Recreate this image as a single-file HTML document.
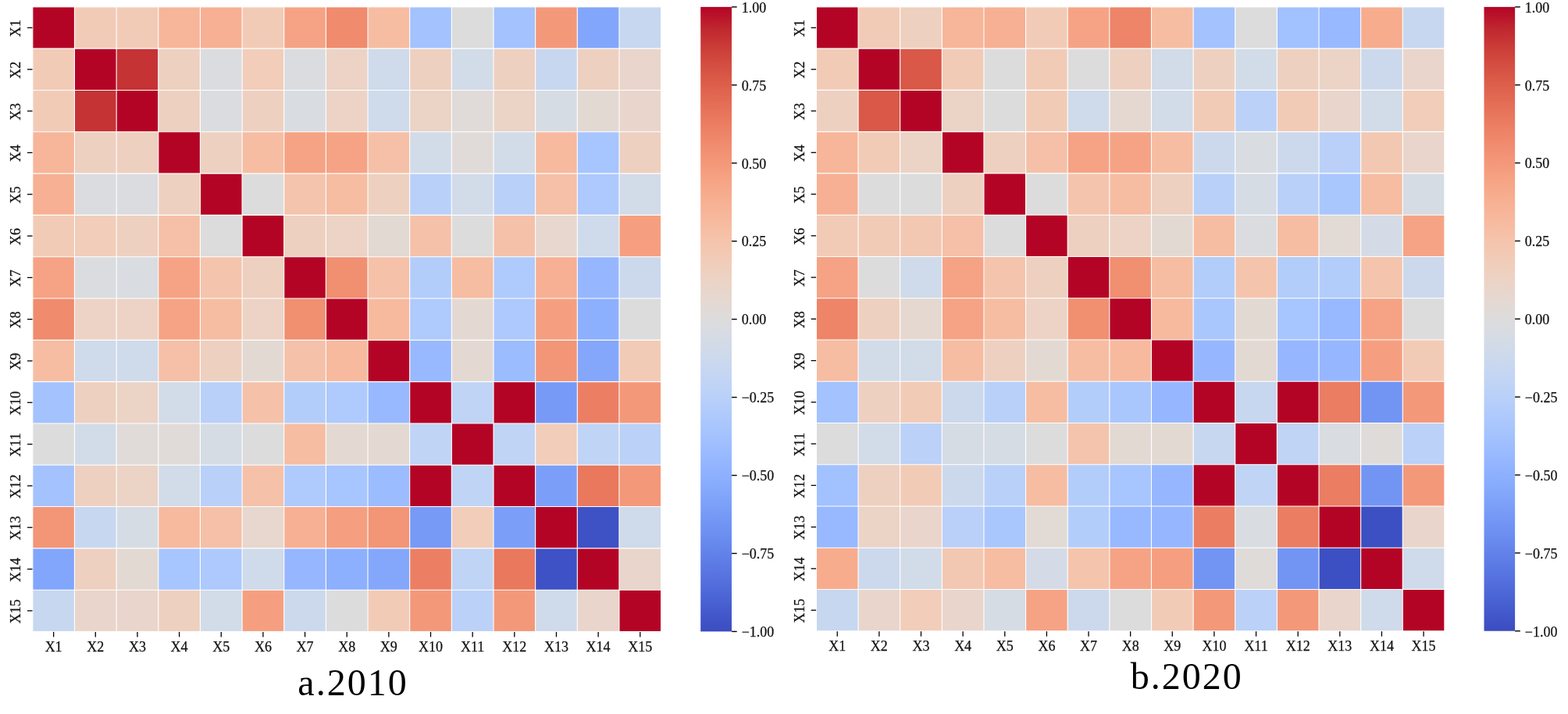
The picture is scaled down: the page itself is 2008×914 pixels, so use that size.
<!DOCTYPE html>
<html><head><meta charset="utf-8"><style>
html,body{margin:0;padding:0;background:#fff;width:2008px;height:914px;overflow:hidden}
svg{position:absolute;left:0;top:0}
.t{font-family:"Liberation Serif","Times New Roman",serif;font-size:18.00px;fill:#111;stroke:#111;stroke-width:0.25px}
.title{font-family:"Liberation Serif","Times New Roman",serif;font-size:48.00px;letter-spacing:2.00px;fill:#000}
</style></head><body>
<svg width="2008" height="914" viewBox="0 0 2008 914">
<rect x="41.81" y="8.85" width="53.70" height="53.36" fill="#b40426"/>
<rect x="95.46" y="8.85" width="53.70" height="53.36" fill="#f2cbb7"/>
<rect x="149.12" y="8.85" width="53.70" height="53.36" fill="#f2cbb7"/>
<rect x="202.77" y="8.85" width="53.70" height="53.36" fill="#f7b599"/>
<rect x="256.42" y="8.85" width="53.70" height="53.36" fill="#f7b093"/>
<rect x="310.07" y="8.85" width="53.70" height="53.36" fill="#f2cbb7"/>
<rect x="363.73" y="8.85" width="53.70" height="53.36" fill="#f6a385"/>
<rect x="417.38" y="8.85" width="53.70" height="53.36" fill="#f08b6e"/>
<rect x="471.03" y="8.85" width="53.70" height="53.36" fill="#f6bda2"/>
<rect x="524.68" y="8.85" width="53.70" height="53.36" fill="#a3c2fe"/>
<rect x="578.34" y="8.85" width="53.70" height="53.36" fill="#dddcdc"/>
<rect x="631.99" y="8.85" width="53.70" height="53.36" fill="#a3c2fe"/>
<rect x="685.64" y="8.85" width="53.70" height="53.36" fill="#f4987a"/>
<rect x="739.29" y="8.85" width="53.70" height="53.36" fill="#82a6fb"/>
<rect x="792.95" y="8.85" width="53.70" height="53.36" fill="#c7d7f0"/>
<rect x="41.81" y="62.16" width="53.70" height="53.36" fill="#f2cbb7"/>
<rect x="95.46" y="62.16" width="53.70" height="53.36" fill="#b40426"/>
<rect x="149.12" y="62.16" width="53.70" height="53.36" fill="#c53334"/>
<rect x="202.77" y="62.16" width="53.70" height="53.36" fill="#eed0c0"/>
<rect x="256.42" y="62.16" width="53.70" height="53.36" fill="#dadce0"/>
<rect x="310.07" y="62.16" width="53.70" height="53.36" fill="#f1cdba"/>
<rect x="363.73" y="62.16" width="53.70" height="53.36" fill="#dadce0"/>
<rect x="417.38" y="62.16" width="53.70" height="53.36" fill="#ecd3c5"/>
<rect x="471.03" y="62.16" width="53.70" height="53.36" fill="#cfdaea"/>
<rect x="524.68" y="62.16" width="53.70" height="53.36" fill="#eed0c0"/>
<rect x="578.34" y="62.16" width="53.70" height="53.36" fill="#d2dbe8"/>
<rect x="631.99" y="62.16" width="53.70" height="53.36" fill="#eed0c0"/>
<rect x="685.64" y="62.16" width="53.70" height="53.36" fill="#c7d7f0"/>
<rect x="739.29" y="62.16" width="53.70" height="53.36" fill="#eed0c0"/>
<rect x="792.95" y="62.16" width="53.70" height="53.36" fill="#e9d5cb"/>
<rect x="41.81" y="115.47" width="53.70" height="53.36" fill="#f2cbb7"/>
<rect x="95.46" y="115.47" width="53.70" height="53.36" fill="#c53334"/>
<rect x="149.12" y="115.47" width="53.70" height="53.36" fill="#b40426"/>
<rect x="202.77" y="115.47" width="53.70" height="53.36" fill="#eed0c0"/>
<rect x="256.42" y="115.47" width="53.70" height="53.36" fill="#dadce0"/>
<rect x="310.07" y="115.47" width="53.70" height="53.36" fill="#eed0c0"/>
<rect x="363.73" y="115.47" width="53.70" height="53.36" fill="#d9dce1"/>
<rect x="417.38" y="115.47" width="53.70" height="53.36" fill="#ecd3c5"/>
<rect x="471.03" y="115.47" width="53.70" height="53.36" fill="#cfdaea"/>
<rect x="524.68" y="115.47" width="53.70" height="53.36" fill="#ebd3c6"/>
<rect x="578.34" y="115.47" width="53.70" height="53.36" fill="#e0dbd8"/>
<rect x="631.99" y="115.47" width="53.70" height="53.36" fill="#ebd3c6"/>
<rect x="685.64" y="115.47" width="53.70" height="53.36" fill="#d6dce4"/>
<rect x="739.29" y="115.47" width="53.70" height="53.36" fill="#e3d9d3"/>
<rect x="792.95" y="115.47" width="53.70" height="53.36" fill="#e9d5cb"/>
<rect x="41.81" y="168.78" width="53.70" height="53.36" fill="#f7b599"/>
<rect x="95.46" y="168.78" width="53.70" height="53.36" fill="#eed0c0"/>
<rect x="149.12" y="168.78" width="53.70" height="53.36" fill="#eed0c0"/>
<rect x="202.77" y="168.78" width="53.70" height="53.36" fill="#b40426"/>
<rect x="256.42" y="168.78" width="53.70" height="53.36" fill="#eed0c0"/>
<rect x="310.07" y="168.78" width="53.70" height="53.36" fill="#f6bda2"/>
<rect x="363.73" y="168.78" width="53.70" height="53.36" fill="#f6a385"/>
<rect x="417.38" y="168.78" width="53.70" height="53.36" fill="#f6a385"/>
<rect x="471.03" y="168.78" width="53.70" height="53.36" fill="#f5c0a7"/>
<rect x="524.68" y="168.78" width="53.70" height="53.36" fill="#d2dbe8"/>
<rect x="578.34" y="168.78" width="53.70" height="53.36" fill="#e0dbd8"/>
<rect x="631.99" y="168.78" width="53.70" height="53.36" fill="#d2dbe8"/>
<rect x="685.64" y="168.78" width="53.70" height="53.36" fill="#f7ba9f"/>
<rect x="739.29" y="168.78" width="53.70" height="53.36" fill="#a7c5fe"/>
<rect x="792.95" y="168.78" width="53.70" height="53.36" fill="#eed0c0"/>
<rect x="41.81" y="222.09" width="53.70" height="53.36" fill="#f7b093"/>
<rect x="95.46" y="222.09" width="53.70" height="53.36" fill="#dadce0"/>
<rect x="149.12" y="222.09" width="53.70" height="53.36" fill="#dadce0"/>
<rect x="202.77" y="222.09" width="53.70" height="53.36" fill="#eed0c0"/>
<rect x="256.42" y="222.09" width="53.70" height="53.36" fill="#b40426"/>
<rect x="310.07" y="222.09" width="53.70" height="53.36" fill="#dddcdc"/>
<rect x="363.73" y="222.09" width="53.70" height="53.36" fill="#f5c4ac"/>
<rect x="417.38" y="222.09" width="53.70" height="53.36" fill="#f6bda2"/>
<rect x="471.03" y="222.09" width="53.70" height="53.36" fill="#eed0c0"/>
<rect x="524.68" y="222.09" width="53.70" height="53.36" fill="#b9d0f9"/>
<rect x="578.34" y="222.09" width="53.70" height="53.36" fill="#d2dbe8"/>
<rect x="631.99" y="222.09" width="53.70" height="53.36" fill="#b9d0f9"/>
<rect x="685.64" y="222.09" width="53.70" height="53.36" fill="#f5c0a7"/>
<rect x="739.29" y="222.09" width="53.70" height="53.36" fill="#adc9fd"/>
<rect x="792.95" y="222.09" width="53.70" height="53.36" fill="#d2dbe8"/>
<rect x="41.81" y="275.40" width="53.70" height="53.36" fill="#f2cbb7"/>
<rect x="95.46" y="275.40" width="53.70" height="53.36" fill="#f1cdba"/>
<rect x="149.12" y="275.40" width="53.70" height="53.36" fill="#eed0c0"/>
<rect x="202.77" y="275.40" width="53.70" height="53.36" fill="#f5c0a7"/>
<rect x="256.42" y="275.40" width="53.70" height="53.36" fill="#dddcdc"/>
<rect x="310.07" y="275.40" width="53.70" height="53.36" fill="#b40426"/>
<rect x="363.73" y="275.40" width="53.70" height="53.36" fill="#eed0c0"/>
<rect x="417.38" y="275.40" width="53.70" height="53.36" fill="#ecd3c5"/>
<rect x="471.03" y="275.40" width="53.70" height="53.36" fill="#e3d9d3"/>
<rect x="524.68" y="275.40" width="53.70" height="53.36" fill="#f5c1a9"/>
<rect x="578.34" y="275.40" width="53.70" height="53.36" fill="#dddcdc"/>
<rect x="631.99" y="275.40" width="53.70" height="53.36" fill="#f5c1a9"/>
<rect x="685.64" y="275.40" width="53.70" height="53.36" fill="#e7d7ce"/>
<rect x="739.29" y="275.40" width="53.70" height="53.36" fill="#cfdaea"/>
<rect x="792.95" y="275.40" width="53.70" height="53.36" fill="#f59f80"/>
<rect x="41.81" y="328.71" width="53.70" height="53.36" fill="#f6a385"/>
<rect x="95.46" y="328.71" width="53.70" height="53.36" fill="#dadce0"/>
<rect x="149.12" y="328.71" width="53.70" height="53.36" fill="#d9dce1"/>
<rect x="202.77" y="328.71" width="53.70" height="53.36" fill="#f6a385"/>
<rect x="256.42" y="328.71" width="53.70" height="53.36" fill="#f5c4ac"/>
<rect x="310.07" y="328.71" width="53.70" height="53.36" fill="#eed0c0"/>
<rect x="363.73" y="328.71" width="53.70" height="53.36" fill="#b40426"/>
<rect x="417.38" y="328.71" width="53.70" height="53.36" fill="#f18f71"/>
<rect x="471.03" y="328.71" width="53.70" height="53.36" fill="#f5c1a9"/>
<rect x="524.68" y="328.71" width="53.70" height="53.36" fill="#b3cdfb"/>
<rect x="578.34" y="328.71" width="53.70" height="53.36" fill="#f6bda2"/>
<rect x="631.99" y="328.71" width="53.70" height="53.36" fill="#afcafc"/>
<rect x="685.64" y="328.71" width="53.70" height="53.36" fill="#f7b093"/>
<rect x="739.29" y="328.71" width="53.70" height="53.36" fill="#96b7ff"/>
<rect x="792.95" y="328.71" width="53.70" height="53.36" fill="#ccd9ed"/>
<rect x="41.81" y="382.02" width="53.70" height="53.36" fill="#f08b6e"/>
<rect x="95.46" y="382.02" width="53.70" height="53.36" fill="#ecd3c5"/>
<rect x="149.12" y="382.02" width="53.70" height="53.36" fill="#ecd3c5"/>
<rect x="202.77" y="382.02" width="53.70" height="53.36" fill="#f6a385"/>
<rect x="256.42" y="382.02" width="53.70" height="53.36" fill="#f6bda2"/>
<rect x="310.07" y="382.02" width="53.70" height="53.36" fill="#ecd3c5"/>
<rect x="363.73" y="382.02" width="53.70" height="53.36" fill="#f18f71"/>
<rect x="417.38" y="382.02" width="53.70" height="53.36" fill="#b40426"/>
<rect x="471.03" y="382.02" width="53.70" height="53.36" fill="#f7ba9f"/>
<rect x="524.68" y="382.02" width="53.70" height="53.36" fill="#afcafc"/>
<rect x="578.34" y="382.02" width="53.70" height="53.36" fill="#e4d9d2"/>
<rect x="631.99" y="382.02" width="53.70" height="53.36" fill="#adc9fd"/>
<rect x="685.64" y="382.02" width="53.70" height="53.36" fill="#f59f80"/>
<rect x="739.29" y="382.02" width="53.70" height="53.36" fill="#8db0fe"/>
<rect x="792.95" y="382.02" width="53.70" height="53.36" fill="#dddcdc"/>
<rect x="41.81" y="435.33" width="53.70" height="53.36" fill="#f6bda2"/>
<rect x="95.46" y="435.33" width="53.70" height="53.36" fill="#cfdaea"/>
<rect x="149.12" y="435.33" width="53.70" height="53.36" fill="#cfdaea"/>
<rect x="202.77" y="435.33" width="53.70" height="53.36" fill="#f5c0a7"/>
<rect x="256.42" y="435.33" width="53.70" height="53.36" fill="#eed0c0"/>
<rect x="310.07" y="435.33" width="53.70" height="53.36" fill="#e3d9d3"/>
<rect x="363.73" y="435.33" width="53.70" height="53.36" fill="#f5c1a9"/>
<rect x="417.38" y="435.33" width="53.70" height="53.36" fill="#f7ba9f"/>
<rect x="471.03" y="435.33" width="53.70" height="53.36" fill="#b40426"/>
<rect x="524.68" y="435.33" width="53.70" height="53.36" fill="#98b9ff"/>
<rect x="578.34" y="435.33" width="53.70" height="53.36" fill="#e4d9d2"/>
<rect x="631.99" y="435.33" width="53.70" height="53.36" fill="#9bbcff"/>
<rect x="685.64" y="435.33" width="53.70" height="53.36" fill="#f39577"/>
<rect x="739.29" y="435.33" width="53.70" height="53.36" fill="#84a7fc"/>
<rect x="792.95" y="435.33" width="53.70" height="53.36" fill="#f2cbb7"/>
<rect x="41.81" y="488.64" width="53.70" height="53.36" fill="#a3c2fe"/>
<rect x="95.46" y="488.64" width="53.70" height="53.36" fill="#eed0c0"/>
<rect x="149.12" y="488.64" width="53.70" height="53.36" fill="#ebd3c6"/>
<rect x="202.77" y="488.64" width="53.70" height="53.36" fill="#d2dbe8"/>
<rect x="256.42" y="488.64" width="53.70" height="53.36" fill="#b9d0f9"/>
<rect x="310.07" y="488.64" width="53.70" height="53.36" fill="#f5c1a9"/>
<rect x="363.73" y="488.64" width="53.70" height="53.36" fill="#b3cdfb"/>
<rect x="417.38" y="488.64" width="53.70" height="53.36" fill="#afcafc"/>
<rect x="471.03" y="488.64" width="53.70" height="53.36" fill="#98b9ff"/>
<rect x="524.68" y="488.64" width="53.70" height="53.36" fill="#b40426"/>
<rect x="578.34" y="488.64" width="53.70" height="53.36" fill="#c0d4f5"/>
<rect x="631.99" y="488.64" width="53.70" height="53.36" fill="#b40426"/>
<rect x="685.64" y="488.64" width="53.70" height="53.36" fill="#779af7"/>
<rect x="739.29" y="488.64" width="53.70" height="53.36" fill="#ec7f63"/>
<rect x="792.95" y="488.64" width="53.70" height="53.36" fill="#f4987a"/>
<rect x="41.81" y="541.95" width="53.70" height="53.36" fill="#dddcdc"/>
<rect x="95.46" y="541.95" width="53.70" height="53.36" fill="#d2dbe8"/>
<rect x="149.12" y="541.95" width="53.70" height="53.36" fill="#e0dbd8"/>
<rect x="202.77" y="541.95" width="53.70" height="53.36" fill="#e0dbd8"/>
<rect x="256.42" y="541.95" width="53.70" height="53.36" fill="#d6dce4"/>
<rect x="310.07" y="541.95" width="53.70" height="53.36" fill="#dddcdc"/>
<rect x="363.73" y="541.95" width="53.70" height="53.36" fill="#f6bda2"/>
<rect x="417.38" y="541.95" width="53.70" height="53.36" fill="#e4d9d2"/>
<rect x="471.03" y="541.95" width="53.70" height="53.36" fill="#e4d9d2"/>
<rect x="524.68" y="541.95" width="53.70" height="53.36" fill="#c0d4f5"/>
<rect x="578.34" y="541.95" width="53.70" height="53.36" fill="#b40426"/>
<rect x="631.99" y="541.95" width="53.70" height="53.36" fill="#c0d4f5"/>
<rect x="685.64" y="541.95" width="53.70" height="53.36" fill="#f1cdba"/>
<rect x="739.29" y="541.95" width="53.70" height="53.36" fill="#c0d4f5"/>
<rect x="792.95" y="541.95" width="53.70" height="53.36" fill="#bbd1f8"/>
<rect x="41.81" y="595.26" width="53.70" height="53.36" fill="#a3c2fe"/>
<rect x="95.46" y="595.26" width="53.70" height="53.36" fill="#eed0c0"/>
<rect x="149.12" y="595.26" width="53.70" height="53.36" fill="#ebd3c6"/>
<rect x="202.77" y="595.26" width="53.70" height="53.36" fill="#d2dbe8"/>
<rect x="256.42" y="595.26" width="53.70" height="53.36" fill="#b9d0f9"/>
<rect x="310.07" y="595.26" width="53.70" height="53.36" fill="#f5c1a9"/>
<rect x="363.73" y="595.26" width="53.70" height="53.36" fill="#afcafc"/>
<rect x="417.38" y="595.26" width="53.70" height="53.36" fill="#a7c5fe"/>
<rect x="471.03" y="595.26" width="53.70" height="53.36" fill="#9bbcff"/>
<rect x="524.68" y="595.26" width="53.70" height="53.36" fill="#b40426"/>
<rect x="578.34" y="595.26" width="53.70" height="53.36" fill="#c0d4f5"/>
<rect x="631.99" y="595.26" width="53.70" height="53.36" fill="#b40426"/>
<rect x="685.64" y="595.26" width="53.70" height="53.36" fill="#7b9ff9"/>
<rect x="739.29" y="595.26" width="53.70" height="53.36" fill="#e9785d"/>
<rect x="792.95" y="595.26" width="53.70" height="53.36" fill="#f4987a"/>
<rect x="41.81" y="648.57" width="53.70" height="53.36" fill="#f39577"/>
<rect x="95.46" y="648.57" width="53.70" height="53.36" fill="#c7d7f0"/>
<rect x="149.12" y="648.57" width="53.70" height="53.36" fill="#d6dce4"/>
<rect x="202.77" y="648.57" width="53.70" height="53.36" fill="#f7ba9f"/>
<rect x="256.42" y="648.57" width="53.70" height="53.36" fill="#f5c0a7"/>
<rect x="310.07" y="648.57" width="53.70" height="53.36" fill="#e7d7ce"/>
<rect x="363.73" y="648.57" width="53.70" height="53.36" fill="#f7b093"/>
<rect x="417.38" y="648.57" width="53.70" height="53.36" fill="#f59f80"/>
<rect x="471.03" y="648.57" width="53.70" height="53.36" fill="#f39577"/>
<rect x="524.68" y="648.57" width="53.70" height="53.36" fill="#779af7"/>
<rect x="578.34" y="648.57" width="53.70" height="53.36" fill="#f1cdba"/>
<rect x="631.99" y="648.57" width="53.70" height="53.36" fill="#7b9ff9"/>
<rect x="685.64" y="648.57" width="53.70" height="53.36" fill="#b40426"/>
<rect x="739.29" y="648.57" width="53.70" height="53.36" fill="#3e51c5"/>
<rect x="792.95" y="648.57" width="53.70" height="53.36" fill="#cfdaea"/>
<rect x="41.81" y="701.88" width="53.70" height="53.36" fill="#82a6fb"/>
<rect x="95.46" y="701.88" width="53.70" height="53.36" fill="#eed0c0"/>
<rect x="149.12" y="701.88" width="53.70" height="53.36" fill="#e3d9d3"/>
<rect x="202.77" y="701.88" width="53.70" height="53.36" fill="#a7c5fe"/>
<rect x="256.42" y="701.88" width="53.70" height="53.36" fill="#adc9fd"/>
<rect x="310.07" y="701.88" width="53.70" height="53.36" fill="#cfdaea"/>
<rect x="363.73" y="701.88" width="53.70" height="53.36" fill="#96b7ff"/>
<rect x="417.38" y="701.88" width="53.70" height="53.36" fill="#8db0fe"/>
<rect x="471.03" y="701.88" width="53.70" height="53.36" fill="#84a7fc"/>
<rect x="524.68" y="701.88" width="53.70" height="53.36" fill="#ec7f63"/>
<rect x="578.34" y="701.88" width="53.70" height="53.36" fill="#c0d4f5"/>
<rect x="631.99" y="701.88" width="53.70" height="53.36" fill="#e9785d"/>
<rect x="685.64" y="701.88" width="53.70" height="53.36" fill="#3e51c5"/>
<rect x="739.29" y="701.88" width="53.70" height="53.36" fill="#b40426"/>
<rect x="792.95" y="701.88" width="53.70" height="53.36" fill="#e9d5cb"/>
<rect x="41.81" y="755.19" width="53.70" height="53.36" fill="#c7d7f0"/>
<rect x="95.46" y="755.19" width="53.70" height="53.36" fill="#e9d5cb"/>
<rect x="149.12" y="755.19" width="53.70" height="53.36" fill="#e9d5cb"/>
<rect x="202.77" y="755.19" width="53.70" height="53.36" fill="#eed0c0"/>
<rect x="256.42" y="755.19" width="53.70" height="53.36" fill="#d2dbe8"/>
<rect x="310.07" y="755.19" width="53.70" height="53.36" fill="#f59f80"/>
<rect x="363.73" y="755.19" width="53.70" height="53.36" fill="#ccd9ed"/>
<rect x="417.38" y="755.19" width="53.70" height="53.36" fill="#dddcdc"/>
<rect x="471.03" y="755.19" width="53.70" height="53.36" fill="#f2cbb7"/>
<rect x="524.68" y="755.19" width="53.70" height="53.36" fill="#f4987a"/>
<rect x="578.34" y="755.19" width="53.70" height="53.36" fill="#bbd1f8"/>
<rect x="631.99" y="755.19" width="53.70" height="53.36" fill="#f4987a"/>
<rect x="685.64" y="755.19" width="53.70" height="53.36" fill="#cfdaea"/>
<rect x="739.29" y="755.19" width="53.70" height="53.36" fill="#e9d5cb"/>
<rect x="792.95" y="755.19" width="53.70" height="53.36" fill="#b40426"/>
<line x1="95.46" y1="8.85" x2="95.46" y2="808.50" stroke="#fff" stroke-width="1.10"/>
<line x1="41.81" y1="62.16" x2="846.60" y2="62.16" stroke="#fff" stroke-width="1.10"/>
<line x1="149.12" y1="8.85" x2="149.12" y2="808.50" stroke="#fff" stroke-width="1.10"/>
<line x1="41.81" y1="115.47" x2="846.60" y2="115.47" stroke="#fff" stroke-width="1.10"/>
<line x1="202.77" y1="8.85" x2="202.77" y2="808.50" stroke="#fff" stroke-width="1.10"/>
<line x1="41.81" y1="168.78" x2="846.60" y2="168.78" stroke="#fff" stroke-width="1.10"/>
<line x1="256.42" y1="8.85" x2="256.42" y2="808.50" stroke="#fff" stroke-width="1.10"/>
<line x1="41.81" y1="222.09" x2="846.60" y2="222.09" stroke="#fff" stroke-width="1.10"/>
<line x1="310.07" y1="8.85" x2="310.07" y2="808.50" stroke="#fff" stroke-width="1.10"/>
<line x1="41.81" y1="275.40" x2="846.60" y2="275.40" stroke="#fff" stroke-width="1.10"/>
<line x1="363.73" y1="8.85" x2="363.73" y2="808.50" stroke="#fff" stroke-width="1.10"/>
<line x1="41.81" y1="328.71" x2="846.60" y2="328.71" stroke="#fff" stroke-width="1.10"/>
<line x1="417.38" y1="8.85" x2="417.38" y2="808.50" stroke="#fff" stroke-width="1.10"/>
<line x1="41.81" y1="382.02" x2="846.60" y2="382.02" stroke="#fff" stroke-width="1.10"/>
<line x1="471.03" y1="8.85" x2="471.03" y2="808.50" stroke="#fff" stroke-width="1.10"/>
<line x1="41.81" y1="435.33" x2="846.60" y2="435.33" stroke="#fff" stroke-width="1.10"/>
<line x1="524.68" y1="8.85" x2="524.68" y2="808.50" stroke="#fff" stroke-width="1.10"/>
<line x1="41.81" y1="488.64" x2="846.60" y2="488.64" stroke="#fff" stroke-width="1.10"/>
<line x1="578.34" y1="8.85" x2="578.34" y2="808.50" stroke="#fff" stroke-width="1.10"/>
<line x1="41.81" y1="541.95" x2="846.60" y2="541.95" stroke="#fff" stroke-width="1.10"/>
<line x1="631.99" y1="8.85" x2="631.99" y2="808.50" stroke="#fff" stroke-width="1.10"/>
<line x1="41.81" y1="595.26" x2="846.60" y2="595.26" stroke="#fff" stroke-width="1.10"/>
<line x1="685.64" y1="8.85" x2="685.64" y2="808.50" stroke="#fff" stroke-width="1.10"/>
<line x1="41.81" y1="648.57" x2="846.60" y2="648.57" stroke="#fff" stroke-width="1.10"/>
<line x1="739.29" y1="8.85" x2="739.29" y2="808.50" stroke="#fff" stroke-width="1.10"/>
<line x1="41.81" y1="701.88" x2="846.60" y2="701.88" stroke="#fff" stroke-width="1.10"/>
<line x1="792.95" y1="8.85" x2="792.95" y2="808.50" stroke="#fff" stroke-width="1.10"/>
<line x1="41.81" y1="755.19" x2="846.60" y2="755.19" stroke="#fff" stroke-width="1.10"/>
<rect x="41.81" y="8.85" width="804.79" height="799.65" fill="none" stroke="#fff" stroke-width="1.10"/>
<line x1="68.64" y1="808.90" x2="68.64" y2="815.40" stroke="#000" stroke-width="1.3"/>
<line x1="35.01" y1="35.50" x2="41.51" y2="35.50" stroke="#000" stroke-width="1.3"/>
<line x1="122.29" y1="808.90" x2="122.29" y2="815.40" stroke="#000" stroke-width="1.3"/>
<line x1="35.01" y1="88.81" x2="41.51" y2="88.81" stroke="#000" stroke-width="1.3"/>
<line x1="175.94" y1="808.90" x2="175.94" y2="815.40" stroke="#000" stroke-width="1.3"/>
<line x1="35.01" y1="142.12" x2="41.51" y2="142.12" stroke="#000" stroke-width="1.3"/>
<line x1="229.59" y1="808.90" x2="229.59" y2="815.40" stroke="#000" stroke-width="1.3"/>
<line x1="35.01" y1="195.43" x2="41.51" y2="195.43" stroke="#000" stroke-width="1.3"/>
<line x1="283.25" y1="808.90" x2="283.25" y2="815.40" stroke="#000" stroke-width="1.3"/>
<line x1="35.01" y1="248.74" x2="41.51" y2="248.74" stroke="#000" stroke-width="1.3"/>
<line x1="336.90" y1="808.90" x2="336.90" y2="815.40" stroke="#000" stroke-width="1.3"/>
<line x1="35.01" y1="302.06" x2="41.51" y2="302.06" stroke="#000" stroke-width="1.3"/>
<line x1="390.55" y1="808.90" x2="390.55" y2="815.40" stroke="#000" stroke-width="1.3"/>
<line x1="35.01" y1="355.37" x2="41.51" y2="355.37" stroke="#000" stroke-width="1.3"/>
<line x1="444.20" y1="808.90" x2="444.20" y2="815.40" stroke="#000" stroke-width="1.3"/>
<line x1="35.01" y1="408.68" x2="41.51" y2="408.68" stroke="#000" stroke-width="1.3"/>
<line x1="497.86" y1="808.90" x2="497.86" y2="815.40" stroke="#000" stroke-width="1.3"/>
<line x1="35.01" y1="461.98" x2="41.51" y2="461.98" stroke="#000" stroke-width="1.3"/>
<line x1="551.51" y1="808.90" x2="551.51" y2="815.40" stroke="#000" stroke-width="1.3"/>
<line x1="35.01" y1="515.29" x2="41.51" y2="515.29" stroke="#000" stroke-width="1.3"/>
<line x1="605.16" y1="808.90" x2="605.16" y2="815.40" stroke="#000" stroke-width="1.3"/>
<line x1="35.01" y1="568.61" x2="41.51" y2="568.61" stroke="#000" stroke-width="1.3"/>
<line x1="658.82" y1="808.90" x2="658.82" y2="815.40" stroke="#000" stroke-width="1.3"/>
<line x1="35.01" y1="621.91" x2="41.51" y2="621.91" stroke="#000" stroke-width="1.3"/>
<line x1="712.47" y1="808.90" x2="712.47" y2="815.40" stroke="#000" stroke-width="1.3"/>
<line x1="35.01" y1="675.22" x2="41.51" y2="675.22" stroke="#000" stroke-width="1.3"/>
<line x1="766.12" y1="808.90" x2="766.12" y2="815.40" stroke="#000" stroke-width="1.3"/>
<line x1="35.01" y1="728.53" x2="41.51" y2="728.53" stroke="#000" stroke-width="1.3"/>
<line x1="819.77" y1="808.90" x2="819.77" y2="815.40" stroke="#000" stroke-width="1.3"/>
<line x1="35.01" y1="781.84" x2="41.51" y2="781.84" stroke="#000" stroke-width="1.3"/>
<text x="68.64" y="833.92" text-anchor="middle" class="t">X1</text>
<text x="0" y="0" text-anchor="middle" class="t" transform="translate(26.01 36.35) rotate(-90)">X1</text>
<text x="122.29" y="833.92" text-anchor="middle" class="t">X2</text>
<text x="0" y="0" text-anchor="middle" class="t" transform="translate(26.01 89.66) rotate(-90)">X2</text>
<text x="175.94" y="833.92" text-anchor="middle" class="t">X3</text>
<text x="0" y="0" text-anchor="middle" class="t" transform="translate(26.01 142.97) rotate(-90)">X3</text>
<text x="229.59" y="833.92" text-anchor="middle" class="t">X4</text>
<text x="0" y="0" text-anchor="middle" class="t" transform="translate(26.01 196.28) rotate(-90)">X4</text>
<text x="283.25" y="833.92" text-anchor="middle" class="t">X5</text>
<text x="0" y="0" text-anchor="middle" class="t" transform="translate(26.01 249.59) rotate(-90)">X5</text>
<text x="336.90" y="833.92" text-anchor="middle" class="t">X6</text>
<text x="0" y="0" text-anchor="middle" class="t" transform="translate(26.01 302.91) rotate(-90)">X6</text>
<text x="390.55" y="833.92" text-anchor="middle" class="t">X7</text>
<text x="0" y="0" text-anchor="middle" class="t" transform="translate(26.01 356.22) rotate(-90)">X7</text>
<text x="444.20" y="833.92" text-anchor="middle" class="t">X8</text>
<text x="0" y="0" text-anchor="middle" class="t" transform="translate(26.01 409.53) rotate(-90)">X8</text>
<text x="497.86" y="833.92" text-anchor="middle" class="t">X9</text>
<text x="0" y="0" text-anchor="middle" class="t" transform="translate(26.01 462.83) rotate(-90)">X9</text>
<text x="551.51" y="833.92" text-anchor="middle" class="t">X10</text>
<text x="0" y="0" text-anchor="middle" class="t" transform="translate(26.01 516.14) rotate(-90)">X10</text>
<text x="605.16" y="833.92" text-anchor="middle" class="t">X11</text>
<text x="0" y="0" text-anchor="middle" class="t" transform="translate(26.01 569.46) rotate(-90)">X11</text>
<text x="658.82" y="833.92" text-anchor="middle" class="t">X12</text>
<text x="0" y="0" text-anchor="middle" class="t" transform="translate(26.01 622.76) rotate(-90)">X12</text>
<text x="712.47" y="833.92" text-anchor="middle" class="t">X13</text>
<text x="0" y="0" text-anchor="middle" class="t" transform="translate(26.01 676.07) rotate(-90)">X13</text>
<text x="766.12" y="833.92" text-anchor="middle" class="t">X14</text>
<text x="0" y="0" text-anchor="middle" class="t" transform="translate(26.01 729.38) rotate(-90)">X14</text>
<text x="819.77" y="833.92" text-anchor="middle" class="t">X15</text>
<text x="0" y="0" text-anchor="middle" class="t" transform="translate(26.01 782.69) rotate(-90)">X15</text>
<defs><linearGradient id="ga" x1="0" y1="0" x2="0" y2="1"><stop offset="0.0000" stop-color="#b40426"/><stop offset="0.0312" stop-color="#be242e"/><stop offset="0.0625" stop-color="#ca3b37"/><stop offset="0.0938" stop-color="#d44e41"/><stop offset="0.1250" stop-color="#dd5f4b"/><stop offset="0.1562" stop-color="#e46e56"/><stop offset="0.1875" stop-color="#eb7d62"/><stop offset="0.2188" stop-color="#f08b6e"/><stop offset="0.2500" stop-color="#f4987a"/><stop offset="0.2812" stop-color="#f6a586"/><stop offset="0.3125" stop-color="#f7b093"/><stop offset="0.3438" stop-color="#f7ba9f"/><stop offset="0.3750" stop-color="#f5c4ac"/><stop offset="0.4062" stop-color="#f1ccb8"/><stop offset="0.4375" stop-color="#ecd3c5"/><stop offset="0.4688" stop-color="#e5d8d1"/><stop offset="0.5000" stop-color="#dddcdc"/><stop offset="0.5312" stop-color="#d5dbe5"/><stop offset="0.5625" stop-color="#ccd9ed"/><stop offset="0.5938" stop-color="#c3d5f4"/><stop offset="0.6250" stop-color="#b9d0f9"/><stop offset="0.6562" stop-color="#aec9fc"/><stop offset="0.6875" stop-color="#a3c2fe"/><stop offset="0.7188" stop-color="#98b9ff"/><stop offset="0.7500" stop-color="#8db0fe"/><stop offset="0.7812" stop-color="#82a6fb"/><stop offset="0.8125" stop-color="#779af7"/><stop offset="0.8438" stop-color="#6c8ff1"/><stop offset="0.8750" stop-color="#6282ea"/><stop offset="0.9062" stop-color="#5875e1"/><stop offset="0.9375" stop-color="#4e68d8"/><stop offset="0.9688" stop-color="#445acc"/><stop offset="1.0000" stop-color="#3b4cc0"/></linearGradient></defs>
<rect x="897.20" y="8.90" width="39.80" height="799.50" fill="url(#ga)"/>
<line x1="937.00" y1="8.90" x2="943.70" y2="8.90" stroke="#000" stroke-width="1.4"/>
<text x="949.70" y="15.66" class="t">1.00</text>
<line x1="937.00" y1="108.84" x2="943.70" y2="108.84" stroke="#000" stroke-width="1.4"/>
<text x="949.70" y="115.60" class="t">0.75</text>
<line x1="937.00" y1="208.78" x2="943.70" y2="208.78" stroke="#000" stroke-width="1.4"/>
<text x="949.70" y="215.53" class="t">0.50</text>
<line x1="937.00" y1="308.71" x2="943.70" y2="308.71" stroke="#000" stroke-width="1.4"/>
<text x="949.70" y="315.47" class="t">0.25</text>
<line x1="937.00" y1="408.65" x2="943.70" y2="408.65" stroke="#000" stroke-width="1.4"/>
<text x="949.70" y="415.41" class="t">0.00</text>
<line x1="937.00" y1="508.59" x2="943.70" y2="508.59" stroke="#000" stroke-width="1.4"/>
<text x="949.70" y="515.35" class="t">−0.25</text>
<line x1="937.00" y1="608.52" x2="943.70" y2="608.52" stroke="#000" stroke-width="1.4"/>
<text x="949.70" y="615.28" class="t">−0.50</text>
<line x1="937.00" y1="708.46" x2="943.70" y2="708.46" stroke="#000" stroke-width="1.4"/>
<text x="949.70" y="715.22" class="t">−0.75</text>
<line x1="937.00" y1="808.40" x2="943.70" y2="808.40" stroke="#000" stroke-width="1.4"/>
<text x="949.70" y="815.16" class="t">−1.00</text>
<text x="452.00" y="890.40" text-anchor="middle" class="title">a.2010</text>
<rect x="1045.42" y="8.87" width="53.68" height="53.31" fill="#b40426"/>
<rect x="1099.05" y="8.87" width="53.68" height="53.31" fill="#f2cbb7"/>
<rect x="1152.68" y="8.87" width="53.68" height="53.31" fill="#eed0c0"/>
<rect x="1206.32" y="8.87" width="53.68" height="53.31" fill="#f7b599"/>
<rect x="1259.95" y="8.87" width="53.68" height="53.31" fill="#f7b093"/>
<rect x="1313.58" y="8.87" width="53.68" height="53.31" fill="#f2cbb7"/>
<rect x="1367.21" y="8.87" width="53.68" height="53.31" fill="#f6a385"/>
<rect x="1420.84" y="8.87" width="53.68" height="53.31" fill="#ee8468"/>
<rect x="1474.48" y="8.87" width="53.68" height="53.31" fill="#f6bda2"/>
<rect x="1528.11" y="8.87" width="53.68" height="53.31" fill="#a3c2fe"/>
<rect x="1581.74" y="8.87" width="53.68" height="53.31" fill="#dddcdc"/>
<rect x="1635.37" y="8.87" width="53.68" height="53.31" fill="#a2c1ff"/>
<rect x="1689.00" y="8.87" width="53.68" height="53.31" fill="#98b9ff"/>
<rect x="1742.64" y="8.87" width="53.68" height="53.31" fill="#f7ac8e"/>
<rect x="1796.27" y="8.87" width="53.68" height="53.31" fill="#c7d7f0"/>
<rect x="1045.42" y="62.13" width="53.68" height="53.31" fill="#f2cbb7"/>
<rect x="1099.05" y="62.13" width="53.68" height="53.31" fill="#b40426"/>
<rect x="1152.68" y="62.13" width="53.68" height="53.31" fill="#d95847"/>
<rect x="1206.32" y="62.13" width="53.68" height="53.31" fill="#f2cbb7"/>
<rect x="1259.95" y="62.13" width="53.68" height="53.31" fill="#dddcdc"/>
<rect x="1313.58" y="62.13" width="53.68" height="53.31" fill="#f2cbb7"/>
<rect x="1367.21" y="62.13" width="53.68" height="53.31" fill="#dddcdc"/>
<rect x="1420.84" y="62.13" width="53.68" height="53.31" fill="#eed0c0"/>
<rect x="1474.48" y="62.13" width="53.68" height="53.31" fill="#d2dbe8"/>
<rect x="1528.11" y="62.13" width="53.68" height="53.31" fill="#eed0c0"/>
<rect x="1581.74" y="62.13" width="53.68" height="53.31" fill="#d2dbe8"/>
<rect x="1635.37" y="62.13" width="53.68" height="53.31" fill="#eed0c0"/>
<rect x="1689.00" y="62.13" width="53.68" height="53.31" fill="#ebd3c6"/>
<rect x="1742.64" y="62.13" width="53.68" height="53.31" fill="#ccd9ed"/>
<rect x="1796.27" y="62.13" width="53.68" height="53.31" fill="#e9d5cb"/>
<rect x="1045.42" y="115.39" width="53.68" height="53.31" fill="#eed0c0"/>
<rect x="1099.05" y="115.39" width="53.68" height="53.31" fill="#d95847"/>
<rect x="1152.68" y="115.39" width="53.68" height="53.31" fill="#b40426"/>
<rect x="1206.32" y="115.39" width="53.68" height="53.31" fill="#ebd3c6"/>
<rect x="1259.95" y="115.39" width="53.68" height="53.31" fill="#dddcdc"/>
<rect x="1313.58" y="115.39" width="53.68" height="53.31" fill="#f2cbb7"/>
<rect x="1367.21" y="115.39" width="53.68" height="53.31" fill="#cfdaea"/>
<rect x="1420.84" y="115.39" width="53.68" height="53.31" fill="#e5d8d1"/>
<rect x="1474.48" y="115.39" width="53.68" height="53.31" fill="#d2dbe8"/>
<rect x="1528.11" y="115.39" width="53.68" height="53.31" fill="#f2cbb7"/>
<rect x="1581.74" y="115.39" width="53.68" height="53.31" fill="#bbd1f8"/>
<rect x="1635.37" y="115.39" width="53.68" height="53.31" fill="#f2cbb7"/>
<rect x="1689.00" y="115.39" width="53.68" height="53.31" fill="#e9d5cb"/>
<rect x="1742.64" y="115.39" width="53.68" height="53.31" fill="#d2dbe8"/>
<rect x="1796.27" y="115.39" width="53.68" height="53.31" fill="#f1cdba"/>
<rect x="1045.42" y="168.66" width="53.68" height="53.31" fill="#f7b599"/>
<rect x="1099.05" y="168.66" width="53.68" height="53.31" fill="#f2cbb7"/>
<rect x="1152.68" y="168.66" width="53.68" height="53.31" fill="#ebd3c6"/>
<rect x="1206.32" y="168.66" width="53.68" height="53.31" fill="#b40426"/>
<rect x="1259.95" y="168.66" width="53.68" height="53.31" fill="#eed0c0"/>
<rect x="1313.58" y="168.66" width="53.68" height="53.31" fill="#f5c0a7"/>
<rect x="1367.21" y="168.66" width="53.68" height="53.31" fill="#f6a385"/>
<rect x="1420.84" y="168.66" width="53.68" height="53.31" fill="#f6a385"/>
<rect x="1474.48" y="168.66" width="53.68" height="53.31" fill="#f6bda2"/>
<rect x="1528.11" y="168.66" width="53.68" height="53.31" fill="#ccd9ed"/>
<rect x="1581.74" y="168.66" width="53.68" height="53.31" fill="#d9dce1"/>
<rect x="1635.37" y="168.66" width="53.68" height="53.31" fill="#ccd9ed"/>
<rect x="1689.00" y="168.66" width="53.68" height="53.31" fill="#bad0f8"/>
<rect x="1742.64" y="168.66" width="53.68" height="53.31" fill="#f3c8b2"/>
<rect x="1796.27" y="168.66" width="53.68" height="53.31" fill="#e9d5cb"/>
<rect x="1045.42" y="221.92" width="53.68" height="53.31" fill="#f7b093"/>
<rect x="1099.05" y="221.92" width="53.68" height="53.31" fill="#dddcdc"/>
<rect x="1152.68" y="221.92" width="53.68" height="53.31" fill="#dddcdc"/>
<rect x="1206.32" y="221.92" width="53.68" height="53.31" fill="#eed0c0"/>
<rect x="1259.95" y="221.92" width="53.68" height="53.31" fill="#b40426"/>
<rect x="1313.58" y="221.92" width="53.68" height="53.31" fill="#dddcdc"/>
<rect x="1367.21" y="221.92" width="53.68" height="53.31" fill="#f5c4ac"/>
<rect x="1420.84" y="221.92" width="53.68" height="53.31" fill="#f6bda2"/>
<rect x="1474.48" y="221.92" width="53.68" height="53.31" fill="#eed0c0"/>
<rect x="1528.11" y="221.92" width="53.68" height="53.31" fill="#b9d0f9"/>
<rect x="1581.74" y="221.92" width="53.68" height="53.31" fill="#d6dce4"/>
<rect x="1635.37" y="221.92" width="53.68" height="53.31" fill="#b9d0f9"/>
<rect x="1689.00" y="221.92" width="53.68" height="53.31" fill="#aac7fd"/>
<rect x="1742.64" y="221.92" width="53.68" height="53.31" fill="#f6bda2"/>
<rect x="1796.27" y="221.92" width="53.68" height="53.31" fill="#d6dce4"/>
<rect x="1045.42" y="275.18" width="53.68" height="53.31" fill="#f2cbb7"/>
<rect x="1099.05" y="275.18" width="53.68" height="53.31" fill="#f2cbb7"/>
<rect x="1152.68" y="275.18" width="53.68" height="53.31" fill="#f3c8b2"/>
<rect x="1206.32" y="275.18" width="53.68" height="53.31" fill="#f5c0a7"/>
<rect x="1259.95" y="275.18" width="53.68" height="53.31" fill="#dddcdc"/>
<rect x="1313.58" y="275.18" width="53.68" height="53.31" fill="#b40426"/>
<rect x="1367.21" y="275.18" width="53.68" height="53.31" fill="#eed0c0"/>
<rect x="1420.84" y="275.18" width="53.68" height="53.31" fill="#ecd3c5"/>
<rect x="1474.48" y="275.18" width="53.68" height="53.31" fill="#e3d9d3"/>
<rect x="1528.11" y="275.18" width="53.68" height="53.31" fill="#f6bda2"/>
<rect x="1581.74" y="275.18" width="53.68" height="53.31" fill="#dadce0"/>
<rect x="1635.37" y="275.18" width="53.68" height="53.31" fill="#f6bda2"/>
<rect x="1689.00" y="275.18" width="53.68" height="53.31" fill="#e2dad5"/>
<rect x="1742.64" y="275.18" width="53.68" height="53.31" fill="#d4dbe6"/>
<rect x="1796.27" y="275.18" width="53.68" height="53.31" fill="#f6a385"/>
<rect x="1045.42" y="328.44" width="53.68" height="53.31" fill="#f6a385"/>
<rect x="1099.05" y="328.44" width="53.68" height="53.31" fill="#dddcdc"/>
<rect x="1152.68" y="328.44" width="53.68" height="53.31" fill="#cfdaea"/>
<rect x="1206.32" y="328.44" width="53.68" height="53.31" fill="#f6a385"/>
<rect x="1259.95" y="328.44" width="53.68" height="53.31" fill="#f5c4ac"/>
<rect x="1313.58" y="328.44" width="53.68" height="53.31" fill="#eed0c0"/>
<rect x="1367.21" y="328.44" width="53.68" height="53.31" fill="#b40426"/>
<rect x="1420.84" y="328.44" width="53.68" height="53.31" fill="#f18f71"/>
<rect x="1474.48" y="328.44" width="53.68" height="53.31" fill="#f6bda2"/>
<rect x="1528.11" y="328.44" width="53.68" height="53.31" fill="#b3cdfb"/>
<rect x="1581.74" y="328.44" width="53.68" height="53.31" fill="#f5c4ac"/>
<rect x="1635.37" y="328.44" width="53.68" height="53.31" fill="#b3cdfb"/>
<rect x="1689.00" y="328.44" width="53.68" height="53.31" fill="#b3cdfb"/>
<rect x="1742.64" y="328.44" width="53.68" height="53.31" fill="#f5c4ac"/>
<rect x="1796.27" y="328.44" width="53.68" height="53.31" fill="#ccd9ed"/>
<rect x="1045.42" y="381.70" width="53.68" height="53.31" fill="#ee8468"/>
<rect x="1099.05" y="381.70" width="53.68" height="53.31" fill="#eed0c0"/>
<rect x="1152.68" y="381.70" width="53.68" height="53.31" fill="#e5d8d1"/>
<rect x="1206.32" y="381.70" width="53.68" height="53.31" fill="#f6a385"/>
<rect x="1259.95" y="381.70" width="53.68" height="53.31" fill="#f6bda2"/>
<rect x="1313.58" y="381.70" width="53.68" height="53.31" fill="#ecd3c5"/>
<rect x="1367.21" y="381.70" width="53.68" height="53.31" fill="#f18f71"/>
<rect x="1420.84" y="381.70" width="53.68" height="53.31" fill="#b40426"/>
<rect x="1474.48" y="381.70" width="53.68" height="53.31" fill="#f7ba9f"/>
<rect x="1528.11" y="381.70" width="53.68" height="53.31" fill="#aac7fd"/>
<rect x="1581.74" y="381.70" width="53.68" height="53.31" fill="#e3d9d3"/>
<rect x="1635.37" y="381.70" width="53.68" height="53.31" fill="#a7c5fe"/>
<rect x="1689.00" y="381.70" width="53.68" height="53.31" fill="#98b9ff"/>
<rect x="1742.64" y="381.70" width="53.68" height="53.31" fill="#f6a385"/>
<rect x="1796.27" y="381.70" width="53.68" height="53.31" fill="#dddcdc"/>
<rect x="1045.42" y="434.97" width="53.68" height="53.31" fill="#f6bda2"/>
<rect x="1099.05" y="434.97" width="53.68" height="53.31" fill="#d2dbe8"/>
<rect x="1152.68" y="434.97" width="53.68" height="53.31" fill="#d2dbe8"/>
<rect x="1206.32" y="434.97" width="53.68" height="53.31" fill="#f6bda2"/>
<rect x="1259.95" y="434.97" width="53.68" height="53.31" fill="#eed0c0"/>
<rect x="1313.58" y="434.97" width="53.68" height="53.31" fill="#e3d9d3"/>
<rect x="1367.21" y="434.97" width="53.68" height="53.31" fill="#f6bda2"/>
<rect x="1420.84" y="434.97" width="53.68" height="53.31" fill="#f7ba9f"/>
<rect x="1474.48" y="434.97" width="53.68" height="53.31" fill="#b40426"/>
<rect x="1528.11" y="434.97" width="53.68" height="53.31" fill="#96b7ff"/>
<rect x="1581.74" y="434.97" width="53.68" height="53.31" fill="#e3d9d3"/>
<rect x="1635.37" y="434.97" width="53.68" height="53.31" fill="#96b7ff"/>
<rect x="1689.00" y="434.97" width="53.68" height="53.31" fill="#96b7ff"/>
<rect x="1742.64" y="434.97" width="53.68" height="53.31" fill="#f59f80"/>
<rect x="1796.27" y="434.97" width="53.68" height="53.31" fill="#f2cbb7"/>
<rect x="1045.42" y="488.23" width="53.68" height="53.31" fill="#a3c2fe"/>
<rect x="1099.05" y="488.23" width="53.68" height="53.31" fill="#eed0c0"/>
<rect x="1152.68" y="488.23" width="53.68" height="53.31" fill="#f2cbb7"/>
<rect x="1206.32" y="488.23" width="53.68" height="53.31" fill="#ccd9ed"/>
<rect x="1259.95" y="488.23" width="53.68" height="53.31" fill="#b9d0f9"/>
<rect x="1313.58" y="488.23" width="53.68" height="53.31" fill="#f6bda2"/>
<rect x="1367.21" y="488.23" width="53.68" height="53.31" fill="#b3cdfb"/>
<rect x="1420.84" y="488.23" width="53.68" height="53.31" fill="#aac7fd"/>
<rect x="1474.48" y="488.23" width="53.68" height="53.31" fill="#96b7ff"/>
<rect x="1528.11" y="488.23" width="53.68" height="53.31" fill="#b40426"/>
<rect x="1581.74" y="488.23" width="53.68" height="53.31" fill="#c7d7f0"/>
<rect x="1635.37" y="488.23" width="53.68" height="53.31" fill="#b40426"/>
<rect x="1689.00" y="488.23" width="53.68" height="53.31" fill="#eb7d62"/>
<rect x="1742.64" y="488.23" width="53.68" height="53.31" fill="#7295f4"/>
<rect x="1796.27" y="488.23" width="53.68" height="53.31" fill="#f4987a"/>
<rect x="1045.42" y="541.49" width="53.68" height="53.31" fill="#dddcdc"/>
<rect x="1099.05" y="541.49" width="53.68" height="53.31" fill="#d2dbe8"/>
<rect x="1152.68" y="541.49" width="53.68" height="53.31" fill="#bbd1f8"/>
<rect x="1206.32" y="541.49" width="53.68" height="53.31" fill="#d6dce4"/>
<rect x="1259.95" y="541.49" width="53.68" height="53.31" fill="#d6dce4"/>
<rect x="1313.58" y="541.49" width="53.68" height="53.31" fill="#dddcdc"/>
<rect x="1367.21" y="541.49" width="53.68" height="53.31" fill="#f5c4ac"/>
<rect x="1420.84" y="541.49" width="53.68" height="53.31" fill="#e3d9d3"/>
<rect x="1474.48" y="541.49" width="53.68" height="53.31" fill="#e3d9d3"/>
<rect x="1528.11" y="541.49" width="53.68" height="53.31" fill="#c7d7f0"/>
<rect x="1581.74" y="541.49" width="53.68" height="53.31" fill="#b40426"/>
<rect x="1635.37" y="541.49" width="53.68" height="53.31" fill="#c0d4f5"/>
<rect x="1689.00" y="541.49" width="53.68" height="53.31" fill="#d9dce1"/>
<rect x="1742.64" y="541.49" width="53.68" height="53.31" fill="#dfdbd9"/>
<rect x="1796.27" y="541.49" width="53.68" height="53.31" fill="#bbd1f8"/>
<rect x="1045.42" y="594.75" width="53.68" height="53.31" fill="#a2c1ff"/>
<rect x="1099.05" y="594.75" width="53.68" height="53.31" fill="#eed0c0"/>
<rect x="1152.68" y="594.75" width="53.68" height="53.31" fill="#f2cbb7"/>
<rect x="1206.32" y="594.75" width="53.68" height="53.31" fill="#ccd9ed"/>
<rect x="1259.95" y="594.75" width="53.68" height="53.31" fill="#b9d0f9"/>
<rect x="1313.58" y="594.75" width="53.68" height="53.31" fill="#f6bda2"/>
<rect x="1367.21" y="594.75" width="53.68" height="53.31" fill="#b3cdfb"/>
<rect x="1420.84" y="594.75" width="53.68" height="53.31" fill="#a7c5fe"/>
<rect x="1474.48" y="594.75" width="53.68" height="53.31" fill="#96b7ff"/>
<rect x="1528.11" y="594.75" width="53.68" height="53.31" fill="#b40426"/>
<rect x="1581.74" y="594.75" width="53.68" height="53.31" fill="#c0d4f5"/>
<rect x="1635.37" y="594.75" width="53.68" height="53.31" fill="#b40426"/>
<rect x="1689.00" y="594.75" width="53.68" height="53.31" fill="#eb7d62"/>
<rect x="1742.64" y="594.75" width="53.68" height="53.31" fill="#7295f4"/>
<rect x="1796.27" y="594.75" width="53.68" height="53.31" fill="#f4987a"/>
<rect x="1045.42" y="648.01" width="53.68" height="53.31" fill="#98b9ff"/>
<rect x="1099.05" y="648.01" width="53.68" height="53.31" fill="#ebd3c6"/>
<rect x="1152.68" y="648.01" width="53.68" height="53.31" fill="#e9d5cb"/>
<rect x="1206.32" y="648.01" width="53.68" height="53.31" fill="#bad0f8"/>
<rect x="1259.95" y="648.01" width="53.68" height="53.31" fill="#aac7fd"/>
<rect x="1313.58" y="648.01" width="53.68" height="53.31" fill="#e2dad5"/>
<rect x="1367.21" y="648.01" width="53.68" height="53.31" fill="#b3cdfb"/>
<rect x="1420.84" y="648.01" width="53.68" height="53.31" fill="#98b9ff"/>
<rect x="1474.48" y="648.01" width="53.68" height="53.31" fill="#96b7ff"/>
<rect x="1528.11" y="648.01" width="53.68" height="53.31" fill="#eb7d62"/>
<rect x="1581.74" y="648.01" width="53.68" height="53.31" fill="#d9dce1"/>
<rect x="1635.37" y="648.01" width="53.68" height="53.31" fill="#eb7d62"/>
<rect x="1689.00" y="648.01" width="53.68" height="53.31" fill="#b40426"/>
<rect x="1742.64" y="648.01" width="53.68" height="53.31" fill="#3d50c3"/>
<rect x="1796.27" y="648.01" width="53.68" height="53.31" fill="#e9d5cb"/>
<rect x="1045.42" y="701.28" width="53.68" height="53.31" fill="#f7ac8e"/>
<rect x="1099.05" y="701.28" width="53.68" height="53.31" fill="#ccd9ed"/>
<rect x="1152.68" y="701.28" width="53.68" height="53.31" fill="#d2dbe8"/>
<rect x="1206.32" y="701.28" width="53.68" height="53.31" fill="#f3c8b2"/>
<rect x="1259.95" y="701.28" width="53.68" height="53.31" fill="#f6bda2"/>
<rect x="1313.58" y="701.28" width="53.68" height="53.31" fill="#d4dbe6"/>
<rect x="1367.21" y="701.28" width="53.68" height="53.31" fill="#f5c4ac"/>
<rect x="1420.84" y="701.28" width="53.68" height="53.31" fill="#f6a385"/>
<rect x="1474.48" y="701.28" width="53.68" height="53.31" fill="#f59f80"/>
<rect x="1528.11" y="701.28" width="53.68" height="53.31" fill="#7295f4"/>
<rect x="1581.74" y="701.28" width="53.68" height="53.31" fill="#dfdbd9"/>
<rect x="1635.37" y="701.28" width="53.68" height="53.31" fill="#7295f4"/>
<rect x="1689.00" y="701.28" width="53.68" height="53.31" fill="#3d50c3"/>
<rect x="1742.64" y="701.28" width="53.68" height="53.31" fill="#b40426"/>
<rect x="1796.27" y="701.28" width="53.68" height="53.31" fill="#cfdaea"/>
<rect x="1045.42" y="754.54" width="53.68" height="53.31" fill="#c7d7f0"/>
<rect x="1099.05" y="754.54" width="53.68" height="53.31" fill="#e9d5cb"/>
<rect x="1152.68" y="754.54" width="53.68" height="53.31" fill="#f1cdba"/>
<rect x="1206.32" y="754.54" width="53.68" height="53.31" fill="#e9d5cb"/>
<rect x="1259.95" y="754.54" width="53.68" height="53.31" fill="#d6dce4"/>
<rect x="1313.58" y="754.54" width="53.68" height="53.31" fill="#f6a385"/>
<rect x="1367.21" y="754.54" width="53.68" height="53.31" fill="#ccd9ed"/>
<rect x="1420.84" y="754.54" width="53.68" height="53.31" fill="#dddcdc"/>
<rect x="1474.48" y="754.54" width="53.68" height="53.31" fill="#f2cbb7"/>
<rect x="1528.11" y="754.54" width="53.68" height="53.31" fill="#f4987a"/>
<rect x="1581.74" y="754.54" width="53.68" height="53.31" fill="#bbd1f8"/>
<rect x="1635.37" y="754.54" width="53.68" height="53.31" fill="#f4987a"/>
<rect x="1689.00" y="754.54" width="53.68" height="53.31" fill="#e9d5cb"/>
<rect x="1742.64" y="754.54" width="53.68" height="53.31" fill="#cfdaea"/>
<rect x="1796.27" y="754.54" width="53.68" height="53.31" fill="#b40426"/>
<line x1="1099.05" y1="8.87" x2="1099.05" y2="807.80" stroke="#fff" stroke-width="1.10"/>
<line x1="1045.42" y1="62.13" x2="1849.90" y2="62.13" stroke="#fff" stroke-width="1.10"/>
<line x1="1152.68" y1="8.87" x2="1152.68" y2="807.80" stroke="#fff" stroke-width="1.10"/>
<line x1="1045.42" y1="115.39" x2="1849.90" y2="115.39" stroke="#fff" stroke-width="1.10"/>
<line x1="1206.32" y1="8.87" x2="1206.32" y2="807.80" stroke="#fff" stroke-width="1.10"/>
<line x1="1045.42" y1="168.66" x2="1849.90" y2="168.66" stroke="#fff" stroke-width="1.10"/>
<line x1="1259.95" y1="8.87" x2="1259.95" y2="807.80" stroke="#fff" stroke-width="1.10"/>
<line x1="1045.42" y1="221.92" x2="1849.90" y2="221.92" stroke="#fff" stroke-width="1.10"/>
<line x1="1313.58" y1="8.87" x2="1313.58" y2="807.80" stroke="#fff" stroke-width="1.10"/>
<line x1="1045.42" y1="275.18" x2="1849.90" y2="275.18" stroke="#fff" stroke-width="1.10"/>
<line x1="1367.21" y1="8.87" x2="1367.21" y2="807.80" stroke="#fff" stroke-width="1.10"/>
<line x1="1045.42" y1="328.44" x2="1849.90" y2="328.44" stroke="#fff" stroke-width="1.10"/>
<line x1="1420.84" y1="8.87" x2="1420.84" y2="807.80" stroke="#fff" stroke-width="1.10"/>
<line x1="1045.42" y1="381.70" x2="1849.90" y2="381.70" stroke="#fff" stroke-width="1.10"/>
<line x1="1474.48" y1="8.87" x2="1474.48" y2="807.80" stroke="#fff" stroke-width="1.10"/>
<line x1="1045.42" y1="434.97" x2="1849.90" y2="434.97" stroke="#fff" stroke-width="1.10"/>
<line x1="1528.11" y1="8.87" x2="1528.11" y2="807.80" stroke="#fff" stroke-width="1.10"/>
<line x1="1045.42" y1="488.23" x2="1849.90" y2="488.23" stroke="#fff" stroke-width="1.10"/>
<line x1="1581.74" y1="8.87" x2="1581.74" y2="807.80" stroke="#fff" stroke-width="1.10"/>
<line x1="1045.42" y1="541.49" x2="1849.90" y2="541.49" stroke="#fff" stroke-width="1.10"/>
<line x1="1635.37" y1="8.87" x2="1635.37" y2="807.80" stroke="#fff" stroke-width="1.10"/>
<line x1="1045.42" y1="594.75" x2="1849.90" y2="594.75" stroke="#fff" stroke-width="1.10"/>
<line x1="1689.00" y1="8.87" x2="1689.00" y2="807.80" stroke="#fff" stroke-width="1.10"/>
<line x1="1045.42" y1="648.01" x2="1849.90" y2="648.01" stroke="#fff" stroke-width="1.10"/>
<line x1="1742.64" y1="8.87" x2="1742.64" y2="807.80" stroke="#fff" stroke-width="1.10"/>
<line x1="1045.42" y1="701.28" x2="1849.90" y2="701.28" stroke="#fff" stroke-width="1.10"/>
<line x1="1796.27" y1="8.87" x2="1796.27" y2="807.80" stroke="#fff" stroke-width="1.10"/>
<line x1="1045.42" y1="754.54" x2="1849.90" y2="754.54" stroke="#fff" stroke-width="1.10"/>
<rect x="1045.42" y="8.87" width="804.48" height="798.93" fill="none" stroke="#fff" stroke-width="1.10"/>
<line x1="1072.24" y1="808.20" x2="1072.24" y2="814.70" stroke="#000" stroke-width="1.3"/>
<line x1="1038.62" y1="35.50" x2="1045.12" y2="35.50" stroke="#000" stroke-width="1.3"/>
<line x1="1125.87" y1="808.20" x2="1125.87" y2="814.70" stroke="#000" stroke-width="1.3"/>
<line x1="1038.62" y1="88.76" x2="1045.12" y2="88.76" stroke="#000" stroke-width="1.3"/>
<line x1="1179.50" y1="808.20" x2="1179.50" y2="814.70" stroke="#000" stroke-width="1.3"/>
<line x1="1038.62" y1="142.02" x2="1045.12" y2="142.02" stroke="#000" stroke-width="1.3"/>
<line x1="1233.13" y1="808.20" x2="1233.13" y2="814.70" stroke="#000" stroke-width="1.3"/>
<line x1="1038.62" y1="195.29" x2="1045.12" y2="195.29" stroke="#000" stroke-width="1.3"/>
<line x1="1286.76" y1="808.20" x2="1286.76" y2="814.70" stroke="#000" stroke-width="1.3"/>
<line x1="1038.62" y1="248.55" x2="1045.12" y2="248.55" stroke="#000" stroke-width="1.3"/>
<line x1="1340.40" y1="808.20" x2="1340.40" y2="814.70" stroke="#000" stroke-width="1.3"/>
<line x1="1038.62" y1="301.81" x2="1045.12" y2="301.81" stroke="#000" stroke-width="1.3"/>
<line x1="1394.03" y1="808.20" x2="1394.03" y2="814.70" stroke="#000" stroke-width="1.3"/>
<line x1="1038.62" y1="355.07" x2="1045.12" y2="355.07" stroke="#000" stroke-width="1.3"/>
<line x1="1447.66" y1="808.20" x2="1447.66" y2="814.70" stroke="#000" stroke-width="1.3"/>
<line x1="1038.62" y1="408.33" x2="1045.12" y2="408.33" stroke="#000" stroke-width="1.3"/>
<line x1="1501.29" y1="808.20" x2="1501.29" y2="814.70" stroke="#000" stroke-width="1.3"/>
<line x1="1038.62" y1="461.60" x2="1045.12" y2="461.60" stroke="#000" stroke-width="1.3"/>
<line x1="1554.92" y1="808.20" x2="1554.92" y2="814.70" stroke="#000" stroke-width="1.3"/>
<line x1="1038.62" y1="514.86" x2="1045.12" y2="514.86" stroke="#000" stroke-width="1.3"/>
<line x1="1608.56" y1="808.20" x2="1608.56" y2="814.70" stroke="#000" stroke-width="1.3"/>
<line x1="1038.62" y1="568.12" x2="1045.12" y2="568.12" stroke="#000" stroke-width="1.3"/>
<line x1="1662.19" y1="808.20" x2="1662.19" y2="814.70" stroke="#000" stroke-width="1.3"/>
<line x1="1038.62" y1="621.38" x2="1045.12" y2="621.38" stroke="#000" stroke-width="1.3"/>
<line x1="1715.82" y1="808.20" x2="1715.82" y2="814.70" stroke="#000" stroke-width="1.3"/>
<line x1="1038.62" y1="674.64" x2="1045.12" y2="674.64" stroke="#000" stroke-width="1.3"/>
<line x1="1769.45" y1="808.20" x2="1769.45" y2="814.70" stroke="#000" stroke-width="1.3"/>
<line x1="1038.62" y1="727.91" x2="1045.12" y2="727.91" stroke="#000" stroke-width="1.3"/>
<line x1="1823.08" y1="808.20" x2="1823.08" y2="814.70" stroke="#000" stroke-width="1.3"/>
<line x1="1038.62" y1="781.17" x2="1045.12" y2="781.17" stroke="#000" stroke-width="1.3"/>
<text x="1072.24" y="833.22" text-anchor="middle" class="t">X1</text>
<text x="0" y="0" text-anchor="middle" class="t" transform="translate(1029.62 36.35) rotate(-90)">X1</text>
<text x="1125.87" y="833.22" text-anchor="middle" class="t">X2</text>
<text x="0" y="0" text-anchor="middle" class="t" transform="translate(1029.62 89.61) rotate(-90)">X2</text>
<text x="1179.50" y="833.22" text-anchor="middle" class="t">X3</text>
<text x="0" y="0" text-anchor="middle" class="t" transform="translate(1029.62 142.87) rotate(-90)">X3</text>
<text x="1233.13" y="833.22" text-anchor="middle" class="t">X4</text>
<text x="0" y="0" text-anchor="middle" class="t" transform="translate(1029.62 196.14) rotate(-90)">X4</text>
<text x="1286.76" y="833.22" text-anchor="middle" class="t">X5</text>
<text x="0" y="0" text-anchor="middle" class="t" transform="translate(1029.62 249.40) rotate(-90)">X5</text>
<text x="1340.40" y="833.22" text-anchor="middle" class="t">X6</text>
<text x="0" y="0" text-anchor="middle" class="t" transform="translate(1029.62 302.66) rotate(-90)">X6</text>
<text x="1394.03" y="833.22" text-anchor="middle" class="t">X7</text>
<text x="0" y="0" text-anchor="middle" class="t" transform="translate(1029.62 355.92) rotate(-90)">X7</text>
<text x="1447.66" y="833.22" text-anchor="middle" class="t">X8</text>
<text x="0" y="0" text-anchor="middle" class="t" transform="translate(1029.62 409.19) rotate(-90)">X8</text>
<text x="1501.29" y="833.22" text-anchor="middle" class="t">X9</text>
<text x="0" y="0" text-anchor="middle" class="t" transform="translate(1029.62 462.45) rotate(-90)">X9</text>
<text x="1554.92" y="833.22" text-anchor="middle" class="t">X10</text>
<text x="0" y="0" text-anchor="middle" class="t" transform="translate(1029.62 515.71) rotate(-90)">X10</text>
<text x="1608.56" y="833.22" text-anchor="middle" class="t">X11</text>
<text x="0" y="0" text-anchor="middle" class="t" transform="translate(1029.62 568.97) rotate(-90)">X11</text>
<text x="1662.19" y="833.22" text-anchor="middle" class="t">X12</text>
<text x="0" y="0" text-anchor="middle" class="t" transform="translate(1029.62 622.23) rotate(-90)">X12</text>
<text x="1715.82" y="833.22" text-anchor="middle" class="t">X13</text>
<text x="0" y="0" text-anchor="middle" class="t" transform="translate(1029.62 675.49) rotate(-90)">X13</text>
<text x="1769.45" y="833.22" text-anchor="middle" class="t">X14</text>
<text x="0" y="0" text-anchor="middle" class="t" transform="translate(1029.62 728.76) rotate(-90)">X14</text>
<text x="1823.08" y="833.22" text-anchor="middle" class="t">X15</text>
<text x="0" y="0" text-anchor="middle" class="t" transform="translate(1029.62 782.02) rotate(-90)">X15</text>
<defs><linearGradient id="gb" x1="0" y1="0" x2="0" y2="1"><stop offset="0.0000" stop-color="#b40426"/><stop offset="0.0312" stop-color="#be242e"/><stop offset="0.0625" stop-color="#ca3b37"/><stop offset="0.0938" stop-color="#d44e41"/><stop offset="0.1250" stop-color="#dd5f4b"/><stop offset="0.1562" stop-color="#e46e56"/><stop offset="0.1875" stop-color="#eb7d62"/><stop offset="0.2188" stop-color="#f08b6e"/><stop offset="0.2500" stop-color="#f4987a"/><stop offset="0.2812" stop-color="#f6a586"/><stop offset="0.3125" stop-color="#f7b093"/><stop offset="0.3438" stop-color="#f7ba9f"/><stop offset="0.3750" stop-color="#f5c4ac"/><stop offset="0.4062" stop-color="#f1ccb8"/><stop offset="0.4375" stop-color="#ecd3c5"/><stop offset="0.4688" stop-color="#e5d8d1"/><stop offset="0.5000" stop-color="#dddcdc"/><stop offset="0.5312" stop-color="#d5dbe5"/><stop offset="0.5625" stop-color="#ccd9ed"/><stop offset="0.5938" stop-color="#c3d5f4"/><stop offset="0.6250" stop-color="#b9d0f9"/><stop offset="0.6562" stop-color="#aec9fc"/><stop offset="0.6875" stop-color="#a3c2fe"/><stop offset="0.7188" stop-color="#98b9ff"/><stop offset="0.7500" stop-color="#8db0fe"/><stop offset="0.7812" stop-color="#82a6fb"/><stop offset="0.8125" stop-color="#779af7"/><stop offset="0.8438" stop-color="#6c8ff1"/><stop offset="0.8750" stop-color="#6282ea"/><stop offset="0.9062" stop-color="#5875e1"/><stop offset="0.9375" stop-color="#4e68d8"/><stop offset="0.9688" stop-color="#445acc"/><stop offset="1.0000" stop-color="#3b4cc0"/></linearGradient></defs>
<rect x="1900.50" y="8.90" width="39.60" height="798.85" fill="url(#gb)"/>
<line x1="1940.10" y1="8.90" x2="1946.80" y2="8.90" stroke="#000" stroke-width="1.4"/>
<text x="1952.80" y="15.66" class="t">1.00</text>
<line x1="1940.10" y1="108.76" x2="1946.80" y2="108.76" stroke="#000" stroke-width="1.4"/>
<text x="1952.80" y="115.51" class="t">0.75</text>
<line x1="1940.10" y1="208.61" x2="1946.80" y2="208.61" stroke="#000" stroke-width="1.4"/>
<text x="1952.80" y="215.37" class="t">0.50</text>
<line x1="1940.10" y1="308.47" x2="1946.80" y2="308.47" stroke="#000" stroke-width="1.4"/>
<text x="1952.80" y="315.23" class="t">0.25</text>
<line x1="1940.10" y1="408.32" x2="1946.80" y2="408.32" stroke="#000" stroke-width="1.4"/>
<text x="1952.80" y="415.08" class="t">0.00</text>
<line x1="1940.10" y1="508.18" x2="1946.80" y2="508.18" stroke="#000" stroke-width="1.4"/>
<text x="1952.80" y="514.94" class="t">−0.25</text>
<line x1="1940.10" y1="608.04" x2="1946.80" y2="608.04" stroke="#000" stroke-width="1.4"/>
<text x="1952.80" y="614.80" class="t">−0.50</text>
<line x1="1940.10" y1="707.89" x2="1946.80" y2="707.89" stroke="#000" stroke-width="1.4"/>
<text x="1952.80" y="714.65" class="t">−0.75</text>
<line x1="1940.10" y1="807.75" x2="1946.80" y2="807.75" stroke="#000" stroke-width="1.4"/>
<text x="1952.80" y="814.51" class="t">−1.00</text>
<text x="1519.80" y="882.10" text-anchor="middle" class="title">b.2020</text>
</svg>
</body></html>
